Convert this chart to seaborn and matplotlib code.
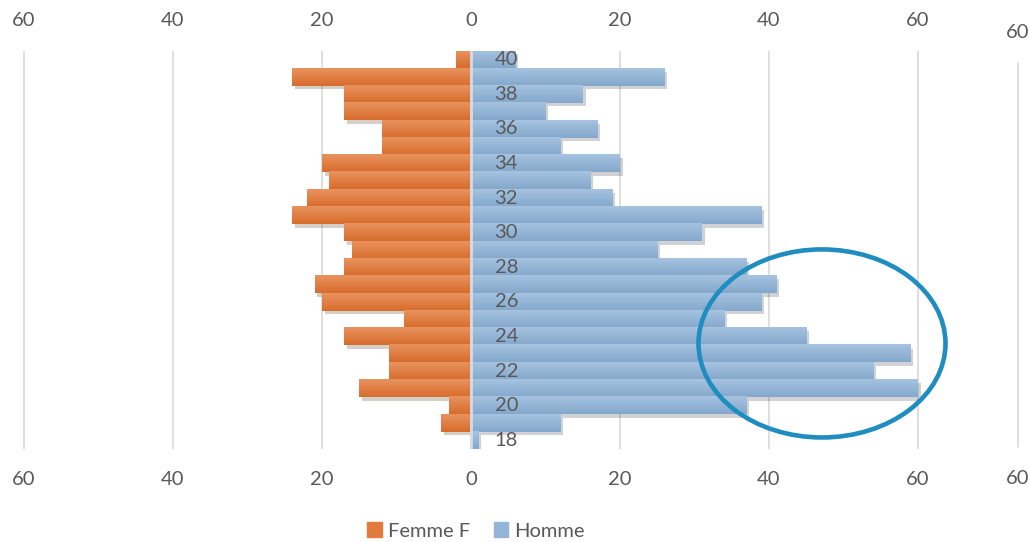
import numpy as np
import pandas as pd
import matplotlib
matplotlib.use("Agg")
import matplotlib.pyplot as plt
import matplotlib.patheffects as pe
import matplotlib.colors as mcolors
from matplotlib.patches import Ellipse
from matplotlib.lines import Line2D
import seaborn as sns

# Data (ages 40 -> 18, top to bottom)
ages = list(range(40, 17, -1))
femmes = [2, 24, 17, 17, 12, 12, 20, 19, 22, 24, 17, 16,
          17, 21, 20, 9, 17, 11, 11, 15, 3, 4, 0]
hommes = [6, 26, 15, 10, 17, 12, 20, 16, 19, 39, 31, 25,
          37, 41, 39, 34, 45, 59, 54, 60, 37, 12, 1]
series = ["Femme F", "Homme"]
tick_vals = [-60, -40, -20, 0, 20, 40, 60]

orange = "#e07b3d"
blue = "#93b5d7"
grey_txt = "#595959"
# gradient ends (top, bottom) per colour
grad = {
    orange: ("#e9925f", "#d76d2c"),
    blue: ("#a6c3e0", "#84a8cc"),
}

df = pd.DataFrame({
    "Age": [str(a) for a in ages] * 2,
    "Count": [-v for v in femmes] + hommes,
    "Sexe": [series[0]] * len(ages) + [series[1]] * len(ages),
})

sns.set_style("white")
plt.rcParams["font.family"] = ["Lato", "DejaVu Sans"]

fig = plt.figure(figsize=(10.29, 5.42), dpi=100)
px = 7.45  # pixels per unit
x0 = 471
ax = fig.add_axes([0, 93 / 542, 1, 398 / 542])

sns.barplot(data=df, x="Count", y="Age", hue="Sexe", order=[str(a) for a in ages],
            hue_order=series, palette=[orange, blue], saturation=1, dodge=False,
            width=1.0, orient="h", ax=ax, legend=False, zorder=3, linewidth=0)

# excel-like gradient fill + soft shadow
for p in list(ax.patches):
    p.set_linewidth(0)
    w = p.get_width()
    if w == 0:
        continue
    p.set_path_effects([pe.SimplePatchShadow(offset=(2, -2.5), alpha=0.22), pe.Normal()])
    fc = mcolors.to_hex(p.get_facecolor()).lower()
    top, bot = grad.get(fc, (fc, fc))
    cmap = mcolors.LinearSegmentedColormap.from_list("g", [top, bot])
    xa, xb = sorted([p.get_x(), p.get_x() + w])
    y, h = p.get_y(), p.get_height()
    ax.imshow(np.linspace(0, 1, 32).reshape(-1, 1), cmap=cmap, aspect="auto",
              extent=(xa, xb, y + h, y), origin="upper", zorder=3.5,
              interpolation="bilinear")

ax.set_xlim(-x0 / px, (1029 - x0) / px)
ax.set_ylim(len(ages) - 0.5, -0.5)

# grid lines
for v in tick_vals:
    ax.axvline(v, color="#D9D9D9", lw=1.2, zorder=1)
ax.axvline(0, color="#D6DCE4", lw=2, zorder=5)

ax.set_xticks(tick_vals)
ax.set_xticklabels([str(abs(v)) for v in tick_vals])
ax.tick_params(axis="x", length=0, labeltop=True, labelbottom=True,
               labelsize=14.5, colors=grey_txt, pad=16)

# age labels next to the zero line
ax.set_yticks([])
for i, a in enumerate(ages):
    if a % 2 == 0:
        ax.text(47 / px, i, str(a), ha="right", va="center", fontsize=14.5,
                color=grey_txt, zorder=6)

ax.set_xlabel("")
ax.set_ylabel("")
for s in ax.spines.values():
    s.set_visible(False)

# highlight ellipse
ax.add_patch(Ellipse(((822 - x0) / px, 16.4), 247 / px, 188 / 17.3,
                     fill=False, edgecolor="#1F8DC0", lw=3.3, zorder=7))

# cropped second axis on the right edge
fig.add_artist(Line2D([1018 / 1029] * 2, [1 - 63 / 542, 1 - 447 / 542],
                      color="#D9D9D9", lw=1.2))
fig.text(1006 / 1029, 1 - 32 / 542, "60", fontsize=14.5, color=grey_txt, va="center")
fig.text(1006 / 1029, 1 - 478 / 542, "60", fontsize=14.5, color=grey_txt, va="center")

handles = [plt.Rectangle((0, 0), 1, 1, color=c) for c in [orange, blue]]
fig.legend(handles, series, loc="center", bbox_to_anchor=(476 / 1029, 1 - 531 / 542),
           ncol=2, frameon=False, fontsize=14.5, handlelength=0.7, handleheight=0.7,
           handletextpad=0.3, columnspacing=1.2, labelcolor=grey_txt)

fig.savefig("out.png", dpi=100)
